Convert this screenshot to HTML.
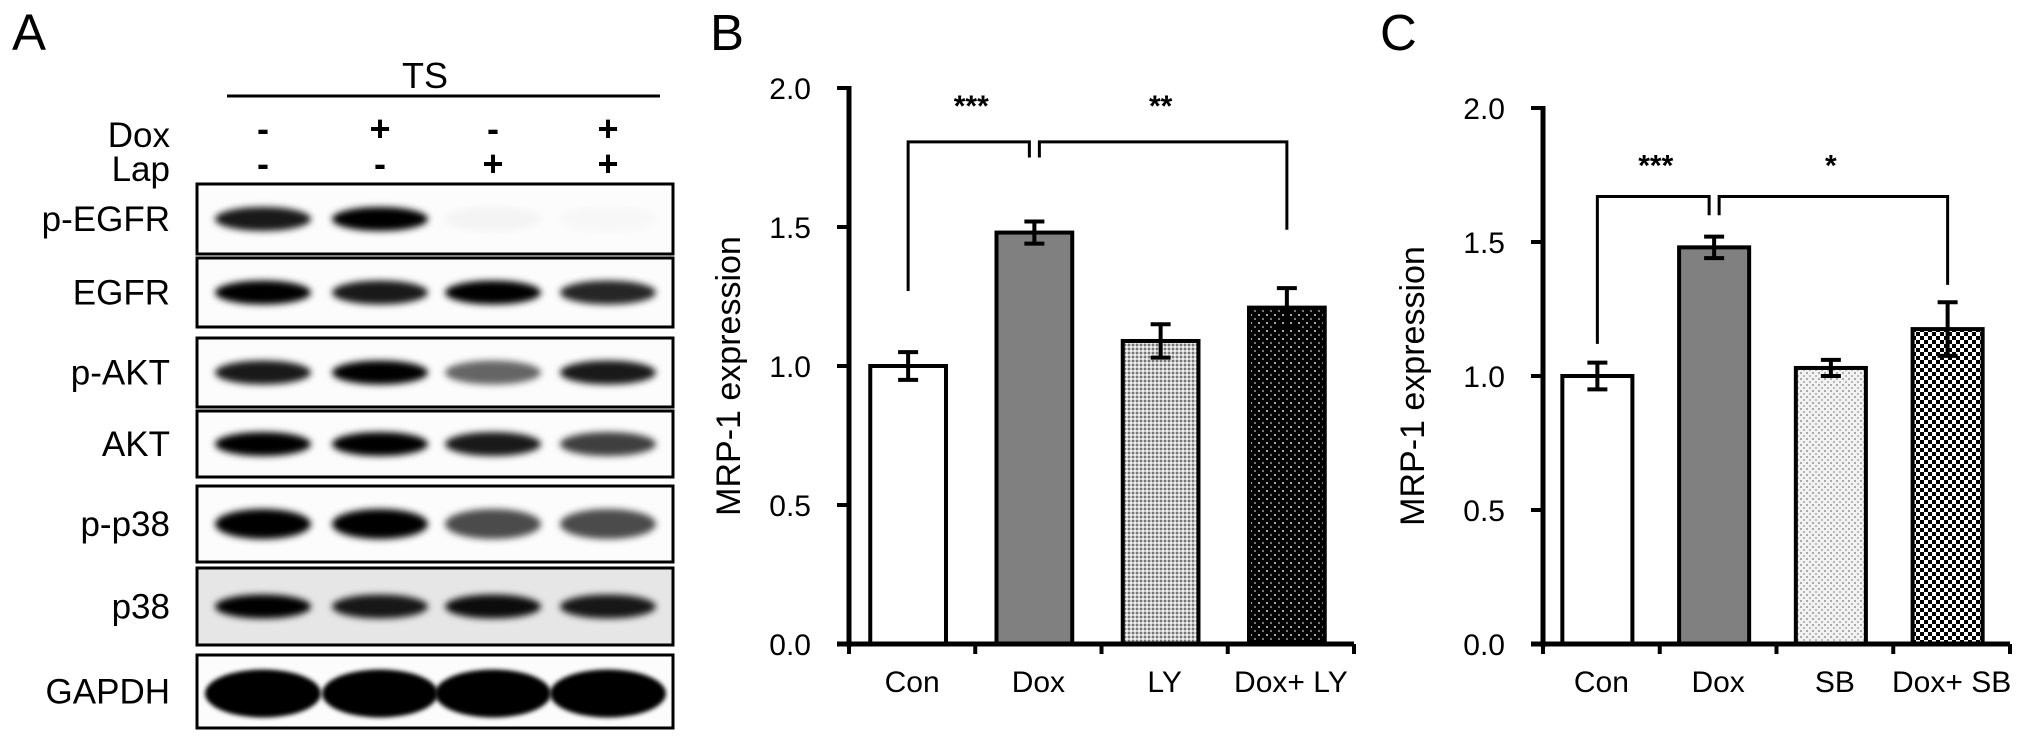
<!DOCTYPE html>
<html><head><meta charset="utf-8">
<style>
html,body{margin:0;padding:0;background:#fff;}
svg{display:block;font-family:"Liberation Sans",Arial,sans-serif;}
</style></head>
<body>
<svg id="fig" width="2031" height="742" viewBox="0 0 2031 742" xmlns="http://www.w3.org/2000/svg">
<defs>
  <filter id="blur" x="-30%" y="-80%" width="160%" height="260%"><feGaussianBlur stdDeviation="3.5"/></filter>
  <filter id="blur2" x="-30%" y="-80%" width="160%" height="260%"><feGaussianBlur stdDeviation="2"/></filter>
  <pattern id="patLY" width="4" height="4" patternUnits="userSpaceOnUse">
    <rect width="4" height="4" fill="#c8c8c8"/><rect width="2" height="2" fill="#777"/><rect x="2" y="2" width="2" height="2" fill="#eee"/>
  </pattern>
  <pattern id="patDLY" width="8" height="8" patternUnits="userSpaceOnUse">
    <rect width="8" height="8" fill="#000"/><rect x="2" y="2" width="2" height="2" fill="#aaa"/><rect x="6" y="6" width="2" height="2" fill="#777"/>
  </pattern>
  <pattern id="patSB" width="6" height="6" patternUnits="userSpaceOnUse">
    <rect width="6" height="6" fill="#f2f2f2"/><rect x="0" y="0" width="2" height="2" fill="#aaa"/><rect x="3" y="3" width="2" height="2" fill="#bbb"/>
  </pattern>
  <pattern id="patDSB" width="8" height="8" patternUnits="userSpaceOnUse">
    <rect width="8" height="8" fill="#fff"/><rect width="4" height="4" fill="#000"/><rect x="4" y="4" width="4" height="4" fill="#000"/>
  </pattern>
</defs>
<g id="panelA"></g>
<g id="panelB"></g>
<g id="panelC"></g>
</svg>
<script>
// ---- Panel A data ----
const blotRows = ["p-EGFR","EGFR","p-AKT","AKT","p-p38","p38","GAPDH"];
const doxSigns = ["-","+","-","+"];
const lapSigns = ["-","-","+","+"];
const intenPEGFR = [0.9,1.0,0.03,0.02];
const intenEGFR = [1.0,0.9,1.0,0.85];
const intenPAKT = [0.9,1.0,0.6,0.9];
const intenAKT = [1.0,1.0,0.9,0.75];
const intenPP38 = [1.0,1.0,0.7,0.7];
const intenP38 = [1.0,0.9,0.95,0.9];
const intenGAPDH = [1,1,1,1];
// ---- Panel B data ----
const catsB = ["Con","Dox","LY","Dox+ LY"];
const valsB = [1.0,1.48,1.09,1.21];
const errsB = [0.05,0.04,0.06,0.07];
const ticksB = ["0.0","0.5","1.0","1.5","2.0"];
const tickValsB = [0,0.5,1,1.5,2];
// ---- Panel C data ----
const catsC = ["Con","Dox","SB","Dox+ SB"];
const valsC = [1.0,1.48,1.03,1.175];
const errsC = [0.05,0.04,0.03,0.10];
const ticksC = ["0.0","0.5","1.0","1.5","2.0"];
const tickValsC = [0,0.5,1,1.5,2];

const NS="http://www.w3.org/2000/svg";
function mk(parent,tag,attrs,text){const e=document.createElementNS(NS,tag);for(const k in attrs)e.setAttribute(k,attrs[k]);if(text!==undefined)e.textContent=text;parent.appendChild(e);return e;}

// ---------- Panel A ----------
(function(){
const g=document.getElementById('panelA');
let t=mk(g,'text',{x:12,y:50,'font-size':51},'A');


t=mk(g,'text',{x:425,y:88,'font-size':36,'text-anchor':'middle'},'TS');


let l=mk(g,'line',{x1:227,x2:660,y1:96,y2:96,stroke:'#000','stroke-width':3});


t=mk(g,'text',{x:170,y:147,'font-size':35,'text-anchor':'end'},'Dox');


t=mk(g,'text',{x:170,y:181,'font-size':35,'text-anchor':'end'},'Lap');


const lanes=[263,380,493,608];
doxSigns.forEach((s,i)=>{const e=mk(g,'text',{x:lanes[i],y:141,'font-size':36,'font-weight':'bold','text-anchor':'middle'},s);
 
 });
lapSigns.forEach((s,i)=>{const e=mk(g,'text',{x:lanes[i],y:176,'font-size':36,'font-weight':'bold','text-anchor':'middle'},s);
 
 });
const boxes=[[184,254],[258,327],[338,407],[411,477],[486,562],[568,645],[655,728]];
const intens=[intenPEGFR,intenEGFR,intenPAKT,intenAKT,intenPP38,intenP38,intenGAPDH];
blotRows.forEach((name,r)=>{
  const [y0,y1]=boxes[r];
  const bx=mk(g,'rect',{x:197,y:y0,width:476,height:y1-y0,fill:r===5?'#e6e6e6':'#fcfcfc',stroke:'#000','stroke-width':3});
  
  
  const lb=mk(g,'text',{x:170,y:(y0+y1)/2+12,'font-size':35,'text-anchor':'end'},name);
  
  
  const cy=(y0+y1)/2+(r===6?2:0);
  intens[r].forEach((v,i)=>{
    const w=r===6?58:48, h=r===6?24:(r===4?15:12);
    const band=mk(g,'ellipse',{cx:lanes[i],cy:cy,rx:w,ry:h,fill:'#000','fill-opacity':v,filter:r===6?'url(#blur2)':'url(#blur)'});
    
    
  });
});
})();

// ---------- Bar chart ----------
function barChart(gid,letter,letterX,x0,x1,y0,yTop,cats,vals,errs,ticks,tickVals,fills,br,titleX){
  const g=document.getElementById(gid);
  const ys=v=>y0-(y0-yTop)*v/2;
  const band=(x1-x0)/cats.length;
  const xc=i=>x0+band*(i+0.5)-4;
  let e=mk(g,'text',{x:letterX,y:50,'font-size':51},letter);
  
  
  e=mk(g,'text',{x:titleX,y:(y0+yTop)/2+10,'font-size':34,'text-anchor':'middle',transform:`rotate(-90 ${titleX} ${(y0+yTop)/2+10})`},'MRP-1 expression');
  
  
  tickVals.forEach((v,i)=>{
    const tl=mk(g,'line',{x1:x0-12,x2:x0,y1:ys(v),y2:ys(v),stroke:'#000','stroke-width':4});
    
    
    const tx=mk(g,'text',{x:x0-38,y:ys(v)+11,'font-size':30,'text-anchor':'end'},ticks[i]);
    
    
  });
  cats.forEach((c,i)=>{
    const bw=band*0.6, top=ys(vals[i]);
    const r=mk(g,'rect',{x:xc(i)-bw/2,y:top,width:bw,height:y0-top,fill:fills[i],stroke:'#000','stroke-width':4});
    
    
    const et=ys(vals[i]+errs[i]), eb=ys(vals[i]-errs[i]);
    const eg=mk(g,'path',{d:`M${xc(i)} ${et}V${eb}M${xc(i)-10} ${et}H${xc(i)+10}M${xc(i)-10} ${eb}H${xc(i)+10}`,stroke:'#000','stroke-width':4,fill:'none'});
    
    
    const xl=mk(g,'text',{x:xc(i)+4,y:y0+48,'font-size':30,'text-anchor':'middle'},c);
    
    
  });
  for(let i=0;i<=cats.length;i++){
    const t=mk(g,'line',{x1:x0+band*i,x2:x0+band*i,y1:y0,y2:y0+10,stroke:'#000','stroke-width':4});
    
    
  }
  e=mk(g,'line',{x1:x0,x2:x0,y1:yTop-2,y2:y0+3,stroke:'#000','stroke-width':5});
  
  
  e=mk(g,'line',{x1:x0-12,x2:x1,y1:y0,y2:y0,stroke:'#000','stroke-width':5});
  
  
  const hy=ys(br.h), dy=ys(br.dip);
  const p=`M${xc(0)} ${ys(br.left)}V${hy}H${xc(1)-5}V${dy}M${xc(1)+5} ${dy}V${hy}H${xc(3)}V${ys(br.right)}`;
  e=mk(g,'path',{d:p,stroke:'#000','stroke-width':3,fill:'none'});
  
  
  e=mk(g,'text',{x:(xc(0)+xc(1))/2,y:ys(br.star)+14,'font-size':30,'font-weight':'bold','text-anchor':'middle'},br.s1);
  
  
  e=mk(g,'text',{x:(xc(1)+xc(3))/2,y:ys(br.star)+14,'font-size':30,'font-weight':'bold','text-anchor':'middle'},br.s2);
  
  
}
barChart('panelB','B',710,849,1354,644,88,catsB,valsB,errsB,ticksB,tickValsB,
  ['#fff','#808080','url(#patLY)','url(#patDLY)'],
  {h:1.806,left:1.27,dip:1.75,right:1.49,star:1.95,s1:'***',s2:'**'},740);
barChart('panelC','C',1380,1543,2010,644,108,catsC,valsC,errsC,ticksC,tickValsC,
  ['#fff','#808080','url(#patSB)','url(#patDSB)'],
  {h:1.67,left:1.12,dip:1.60,right:1.34,star:1.80,s1:'***',s2:'*'},1424);
</script>
</body></html>
